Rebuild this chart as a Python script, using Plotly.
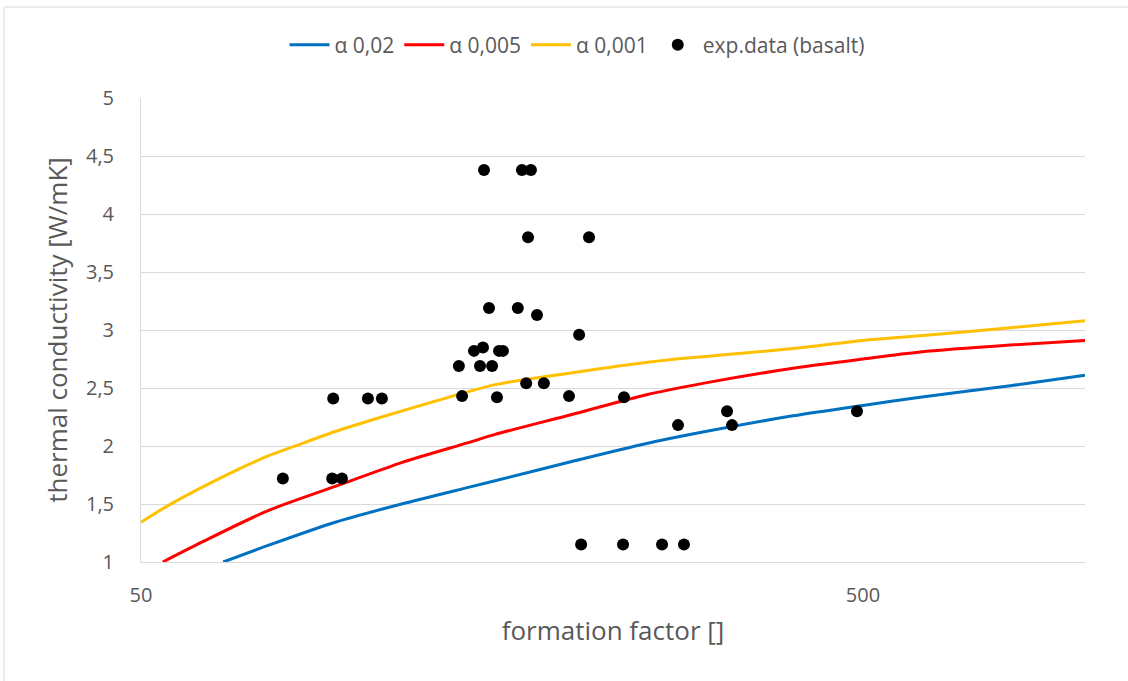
import plotly.graph_objects as go
import math

# ---- data ----
exp_x = [78.6, 92.3, 92.0, 94.9, 103.1, 107.8, 137.8, 139.2, 144.6, 148.8, 147.4, 153.2,
         149.3, 151.7, 155.6, 156.6, 158.6, 166.3, 168.5, 173.4, 171.8, 176.8, 170.8,
         180.7, 195.8, 202.2, 208.7, 203.5, 232.6, 233.3, 263.4, 282.5, 277.2, 324.1,
         329.3, 490.5]
exp_y = [1.72, 2.41, 1.72, 1.72, 2.41, 2.41, 2.69, 2.43, 2.82, 2.85, 2.69, 2.69,
         4.38, 3.19, 2.42, 2.82, 2.82, 3.19, 4.38, 4.38, 3.80, 3.13, 2.54,
         2.54, 2.43, 2.96, 3.80, 1.15, 1.15, 2.42, 1.15, 1.15, 2.18, 2.30,
         2.18, 2.30]

a002_x = [65, 75, 92.9, 114.8, 142, 154.7, 200, 250, 300, 400, 500, 600, 800, 1015]
a002_y = [1.00, 1.143, 1.343, 1.50, 1.643, 1.70, 1.875, 2.02, 2.12, 2.26, 2.35, 2.42, 2.52, 2.61]

a0005_x = [53.6, 60.7, 75.0, 94.8, 114.8, 142, 154.7, 200, 250, 300, 400, 500, 600, 800, 1015]
a0005_y = [1.00, 1.171, 1.443, 1.671, 1.857, 2.029, 2.10, 2.28, 2.44, 2.54, 2.67, 2.75, 2.81, 2.87, 2.91]

a0001_x = [50, 54.5, 60.7, 67.5, 75.0, 81.3, 91.8, 107.7, 127.7, 154.7, 200, 250, 300, 400, 500, 600, 800, 1015]
a0001_y = [1.343, 1.486, 1.643, 1.786, 1.914, 1.994, 2.114, 2.25, 2.386, 2.529, 2.636, 2.72, 2.77, 2.84, 2.91, 2.95, 3.02, 3.08]

y_ticks = [1, 1.5, 2, 2.5, 3, 3.5, 4, 4.5, 5]
y_ticktext = ["1", "1,5", "2", "2,5", "3", "3,5", "4", "4,5", "5"]
x_ticks = [50, 500]
x_ticktext = ["50", "500"]
x_range = [50, 1015]
y_range = [1, 5]

FONT = "Open Sans"
GREY = "#595959"

fig = go.Figure()
fig.add_trace(go.Scatter(x=a002_x, y=a002_y, mode="lines", name="α 0,02",
                         line=dict(color="#0070C0", width=3, shape="spline", smoothing=0.8)))
fig.add_trace(go.Scatter(x=a0005_x, y=a0005_y, mode="lines", name="α 0,005",
                         line=dict(color="#FF0000", width=3, shape="spline", smoothing=0.8)))
fig.add_trace(go.Scatter(x=a0001_x, y=a0001_y, mode="lines", name="α 0,001",
                         line=dict(color="#FFC000", width=3, shape="spline", smoothing=0.8)))
fig.add_trace(go.Scatter(x=exp_x, y=exp_y, mode="markers", name="exp.data (basalt)",
                         marker=dict(color="black", size=12)))

W, H = 1128, 681
L, R, T, B = 141, 43, 98, 119
pw, ph = W - L - R, H - T - B

def px_x(px):
    return (px - L) / pw

def px_y(py):
    return (H - B - py) / ph

fig.update_layout(
    width=W, height=H,
    margin=dict(l=L, r=R, t=T, b=B, autoexpand=False),
    paper_bgcolor="white", plot_bgcolor="white",
    font=dict(family=FONT, color=GREY, size=20),
    showlegend=True,
    legend=dict(orientation="h", x=px_x(577), xanchor="center", y=px_y(45), yanchor="middle",
                font=dict(size=21, color=GREY), itemwidth=40, bgcolor="rgba(0,0,0,0)"),
    xaxis=dict(type="log", range=[math.log10(x_range[0]), math.log10(x_range[1])],
               tickvals=x_ticks, ticktext=x_ticktext, showgrid=False, zeroline=False,
               showline=True, linecolor="#d9d9d9", linewidth=1,
               ticks="outside", ticklen=15, tickcolor="rgba(0,0,0,0)",
               tickfont=dict(size=20, color=GREY),
               title=dict(text="formation factor []", font=dict(size=26, color=GREY), standoff=14)),
    yaxis=dict(range=y_range, tickvals=y_ticks, ticktext=y_ticktext,
               showgrid=True, gridcolor="#d9d9d9", gridwidth=1, zeroline=False,
               showline=True, linecolor="#d9d9d9", linewidth=1,
               ticks="outside", ticklen=22, tickcolor="rgba(0,0,0,0)",
               tickfont=dict(size=20, color=GREY),
               title=dict(text="thermal conductivity [W/mK]", font=dict(size=26, color=GREY), standoff=10)),
    shapes=[dict(type="rect", xref="paper", yref="paper",
                 x0=px_x(4), x1=px_x(1135), y0=px_y(690), y1=px_y(7),
                 line=dict(color="#d9d9d9", width=1), fillcolor="rgba(0,0,0,0)", layer="below")],
)

fig.write_html("out.html")
